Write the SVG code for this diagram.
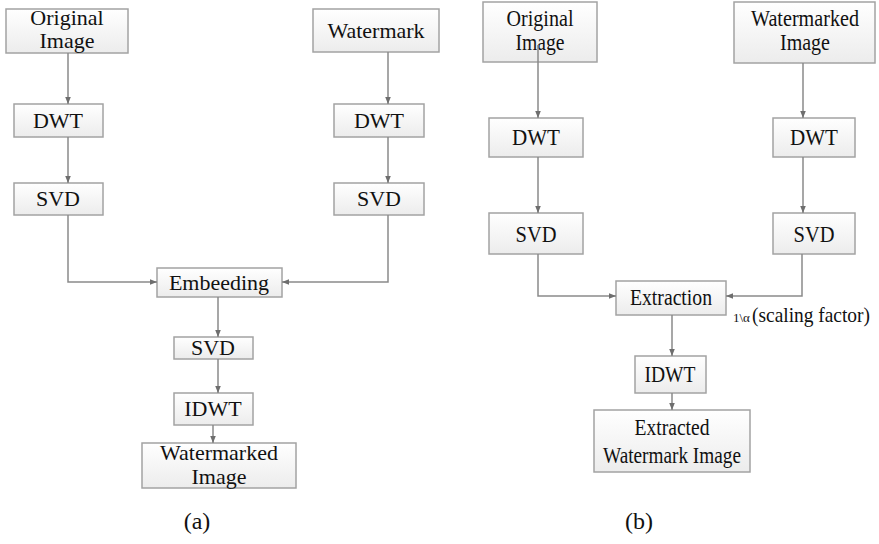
<svg xmlns="http://www.w3.org/2000/svg" width="879" height="544" viewBox="0 0 879 544">
  <defs>
    <linearGradient id="boxFill" x1="0" y1="0" x2="0" y2="1">
      <stop offset="0" stop-color="#ffffff"/>
      <stop offset="1" stop-color="#ececec"/>
    </linearGradient>
    <marker id="arrow" viewBox="0 0 10 10" refX="10" refY="5" markerWidth="7" markerHeight="7" markerUnits="userSpaceOnUse" orient="auto">
      <path d="M0,1 L10,5 L0,9 Z" fill="#6e6e6e"/>
    </marker>
  </defs>
  <style>
    text { font-family: 'Liberation Serif', 'DejaVu Serif', serif; fill: #111; }
    .box { fill: url(#boxFill); stroke: #a3a3a3; stroke-width: 1.5; }
    .lbl { font-size: 22px; text-anchor: middle; }
    .nar { font-size: 24px; text-anchor: middle; }
    .cap { font-size: 24px; text-anchor: middle; }
    .conn { fill: none; stroke: #8a8a8a; stroke-width: 1.5; marker-end: url(#arrow); }
  </style>
  <rect width="879" height="544" fill="#ffffff"/>

  <!-- (a) embedding -->
  <g id="a-original">
    <rect class="box" x="6" y="9" width="122" height="44"/>
    <text class="lbl" x="67" y="25" font-size="20">Original</text>
    <text class="lbl" x="67" y="48" font-size="20">Image</text>
  </g>
  <g id="a-watermark">
    <rect class="box" x="313" y="9" width="126" height="43"/>
    <text class="lbl" x="376" y="38">Watermark</text>
  </g>
  <g id="a-dwt1">
    <rect class="box" x="14" y="104" width="89" height="33"/>
    <text class="lbl" x="58" y="128">DWT</text>
  </g>
  <g id="a-dwt2">
    <rect class="box" x="334" y="104" width="90" height="33"/>
    <text class="lbl" x="379" y="128">DWT</text>
  </g>
  <g id="a-svd1">
    <rect class="box" x="14" y="183" width="89" height="32"/>
    <text class="lbl" x="58" y="206">SVD</text>
  </g>
  <g id="a-svd2">
    <rect class="box" x="334" y="183" width="90" height="32"/>
    <text class="lbl" x="379" y="206">SVD</text>
  </g>
  <g id="a-embed">
    <rect class="box" x="157" y="268" width="125" height="29"/>
    <text class="lbl" x="219" y="290">Embeeding</text>
  </g>
  <g id="a-svd3">
    <rect class="box" x="174" y="337" width="79" height="22"/>
    <text class="lbl" x="213" y="355">SVD</text>
  </g>
  <g id="a-idwt">
    <rect class="box" x="174" y="393" width="79" height="32"/>
    <text class="lbl" x="213" y="416">IDWT</text>
  </g>
  <g id="a-out">
    <rect class="box" x="142" y="443" width="154" height="45"/>
    <text class="lbl" x="219" y="460">Watermarked</text>
    <text class="lbl" x="219" y="484">Image</text>
  </g>

  <!-- (b) extraction -->
  <g id="b-original">
    <rect class="box" x="483" y="2" width="114" height="60"/>
    <text class="nar" x="540" y="26" textLength="67" lengthAdjust="spacingAndGlyphs">Original</text>
    <text class="nar" x="540" y="50" textLength="49" lengthAdjust="spacingAndGlyphs">Image</text>
  </g>
  <g id="b-marked">
    <rect class="box" x="734" y="2" width="141" height="61"/>
    <text class="nar" x="805" y="26" textLength="108" lengthAdjust="spacingAndGlyphs">Watermarked</text>
    <text class="nar" x="805" y="50" textLength="50" lengthAdjust="spacingAndGlyphs">Image</text>
  </g>
  <g id="b-dwt1">
    <rect class="box" x="489" y="118" width="94" height="39"/>
    <text class="nar" x="536" y="145" textLength="48" lengthAdjust="spacingAndGlyphs">DWT</text>
  </g>
  <g id="b-dwt2">
    <rect class="box" x="773" y="118" width="82" height="39"/>
    <text class="nar" x="814" y="145" textLength="48" lengthAdjust="spacingAndGlyphs">DWT</text>
  </g>
  <g id="b-svd1">
    <rect class="box" x="489" y="213" width="94" height="41"/>
    <text class="nar" x="536" y="242" textLength="41" lengthAdjust="spacingAndGlyphs">SVD</text>
  </g>
  <g id="b-svd2">
    <rect class="box" x="773" y="213" width="82" height="41"/>
    <text class="nar" x="814" y="242" textLength="41" lengthAdjust="spacingAndGlyphs">SVD</text>
  </g>
  <g id="b-extract">
    <rect class="box" x="616" y="281" width="110" height="34"/>
    <text class="nar" x="671" y="305" textLength="82" lengthAdjust="spacingAndGlyphs">Extraction</text>
  </g>
  <g id="b-idwt">
    <rect class="box" x="635" y="356" width="71" height="37"/>
    <text class="nar" x="670" y="382" textLength="51" lengthAdjust="spacingAndGlyphs">IDWT</text>
  </g>
  <g id="b-out">
    <rect class="box" x="594" y="410" width="156" height="62"/>
    <text class="nar" x="672" y="435" textLength="75" lengthAdjust="spacingAndGlyphs">Extracted</text>
    <text class="nar" x="672" y="463" textLength="138" lengthAdjust="spacingAndGlyphs">Watermark Image</text>
  </g>
  <g id="b-scale">
    <text x="733" y="322" font-size="13">1\α</text>
    <text x="752" y="322" font-size="21" textLength="118" lengthAdjust="spacingAndGlyphs">(scaling factor)</text>
  </g>

  <!-- captions -->
  <text class="cap" x="197" y="529">(a)</text>
  <text class="cap" x="639" y="529">(b)</text>

  <g id="connectors">
    <path class="conn" d="M68,53 V104"/>
    <path class="conn" d="M388,52 V104"/>
    <path class="conn" d="M68,137 V183"/>
    <path class="conn" d="M388,137 V183"/>
    <path class="conn" d="M68,215 V282 H157"/>
    <path class="conn" d="M388,215 V282 H282"/>
    <path class="conn" d="M218,297 V337"/>
    <path class="conn" d="M218,359 V393"/>
    <path class="conn" d="M213,425 V443"/>

    <path class="conn" d="M538,45 V118"/>
    <path class="conn" d="M803,63 V118"/>
    <path class="conn" d="M538,157 V213"/>
    <path class="conn" d="M803,157 V213"/>
    <path class="conn" d="M538,254 V296 H616"/>
    <path class="conn" d="M802,254 V296 H726"/>
    <path class="conn" d="M672,315 V356"/>
    <path class="conn" d="M672,393 V410"/>
  </g>
</svg>
